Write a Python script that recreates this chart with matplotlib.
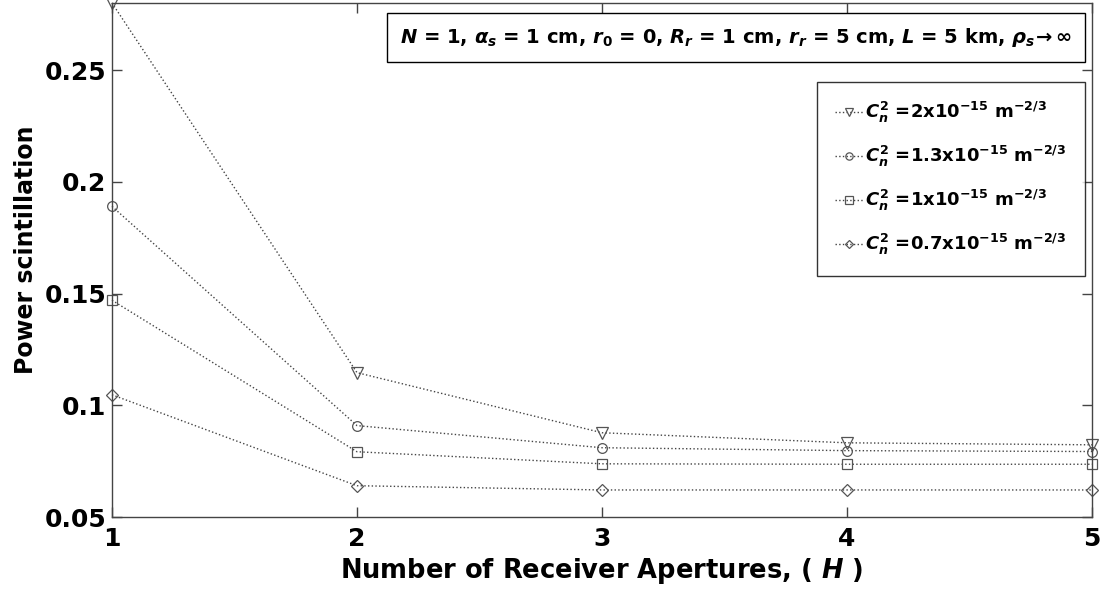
import matplotlib
matplotlib.use("Agg")
import matplotlib.pyplot as plt

plt.rcParams['font.family'] = ['DejaVu Sans']
plt.rcParams['font.weight'] = 'bold'
plt.rcParams['mathtext.fontset'] = 'custom'
plt.rcParams['mathtext.rm'] = 'DejaVu Sans:bold'
plt.rcParams['mathtext.it'] = 'DejaVu Sans:bold:italic'
plt.rcParams['mathtext.bf'] = 'DejaVu Sans:bold'
plt.rcParams['mathtext.fallback'] = 'stixsans'

H = [1, 2, 3, 4, 5]
cn2_2 = [0.2800, 0.1146, 0.0877, 0.0832, 0.0823]
cn2_13 = [0.1890, 0.0909, 0.0810, 0.0797, 0.0793]
cn2_1 = [0.1470, 0.0792, 0.0738, 0.0736, 0.0736]
cn2_07 = [0.1047, 0.0640, 0.0621, 0.0621, 0.0621]

labels = [r'$C_n^2$ =2x10$^{-15}$ m$^{-2/3}$',
          r'$C_n^2$ =1.3x10$^{-15}$ m$^{-2/3}$',
          r'$C_n^2$ =1x10$^{-15}$ m$^{-2/3}$',
          r'$C_n^2$ =0.7x10$^{-15}$ m$^{-2/3}$']
markers = ['v', 'o', 's', 'D']
msizes = [8, 7, 7, 6]
series = [cn2_2, cn2_13, cn2_1, cn2_07]
xticks = [1, 2, 3, 4, 5]
yticks = [0.05, 0.1, 0.15, 0.2, 0.25]
yticklabels = ['0.05', '0.1', '0.15', '0.2', '0.25']

fig = plt.figure(figsize=(11.13, 5.97), dpi=100)
ax = fig.add_axes([0.1006, 0.134, 0.8805, 0.861])

for y, m, ms, lab in zip(series, markers, msizes, labels):
    ax.plot(H, y, linestyle=':', color='#444444', linewidth=1.0,
            marker=m, markersize=ms, markerfacecolor='none',
            markeredgecolor='#555555', markeredgewidth=0.9, label=lab,
            clip_on=False)

ax.set_xlim(1, 5)
ax.set_ylim(0.05, 0.28)
ax.set_xticks(xticks)
ax.set_xticklabels([str(t) for t in xticks])
ax.set_yticks(yticks)
ax.set_yticklabels(yticklabels)
ax.tick_params(direction='in', top=True, right=True, length=7, width=1,
               labelsize=18, colors='#444444', labelcolor='black')
ax.tick_params(axis='x', pad=7)
ax.tick_params(axis='y', pad=4)
for lbl in ax.get_xticklabels() + ax.get_yticklabels():
    lbl.set_fontweight('bold')
for s in ax.spines.values():
    s.set_color('#444444')
    s.set_linewidth(1.0)

ax.set_xlabel(r'Number of Receiver Apertures, ( $H$ )', fontsize=18.5,
              fontweight='bold', labelpad=4)
ax.set_ylabel('Power scintillation', fontsize=17, fontweight='bold', labelpad=5)
ax.yaxis.label.set_y(0.52)

ax.text(0.9795, 0.933,
        r'$N$ = 1, $\alpha_s$ = 1 cm, $r_0$ = 0, $R_r$ = 1 cm, $r_r$ = 5 cm, $L$ = 5 km, $\rho_s\!\rightarrow\infty$',
        transform=ax.transAxes, ha='right', va='center', fontsize=14.0,
        fontweight='bold',
        bbox=dict(boxstyle='square,pad=0.65', facecolor='white',
                  edgecolor='black', linewidth=1.0))

leg = ax.legend(loc='upper right', bbox_to_anchor=(0.9925, 0.846), fontsize=13,
                frameon=True, fancybox=False, edgecolor='black',
                handlelength=1.6, handletextpad=0.1, labelspacing=1.05,
                borderpad=1.0, borderaxespad=0, markerscale=0.75)
leg.get_frame().set_linewidth(1.0)

fig.savefig('out.png', dpi=100)
